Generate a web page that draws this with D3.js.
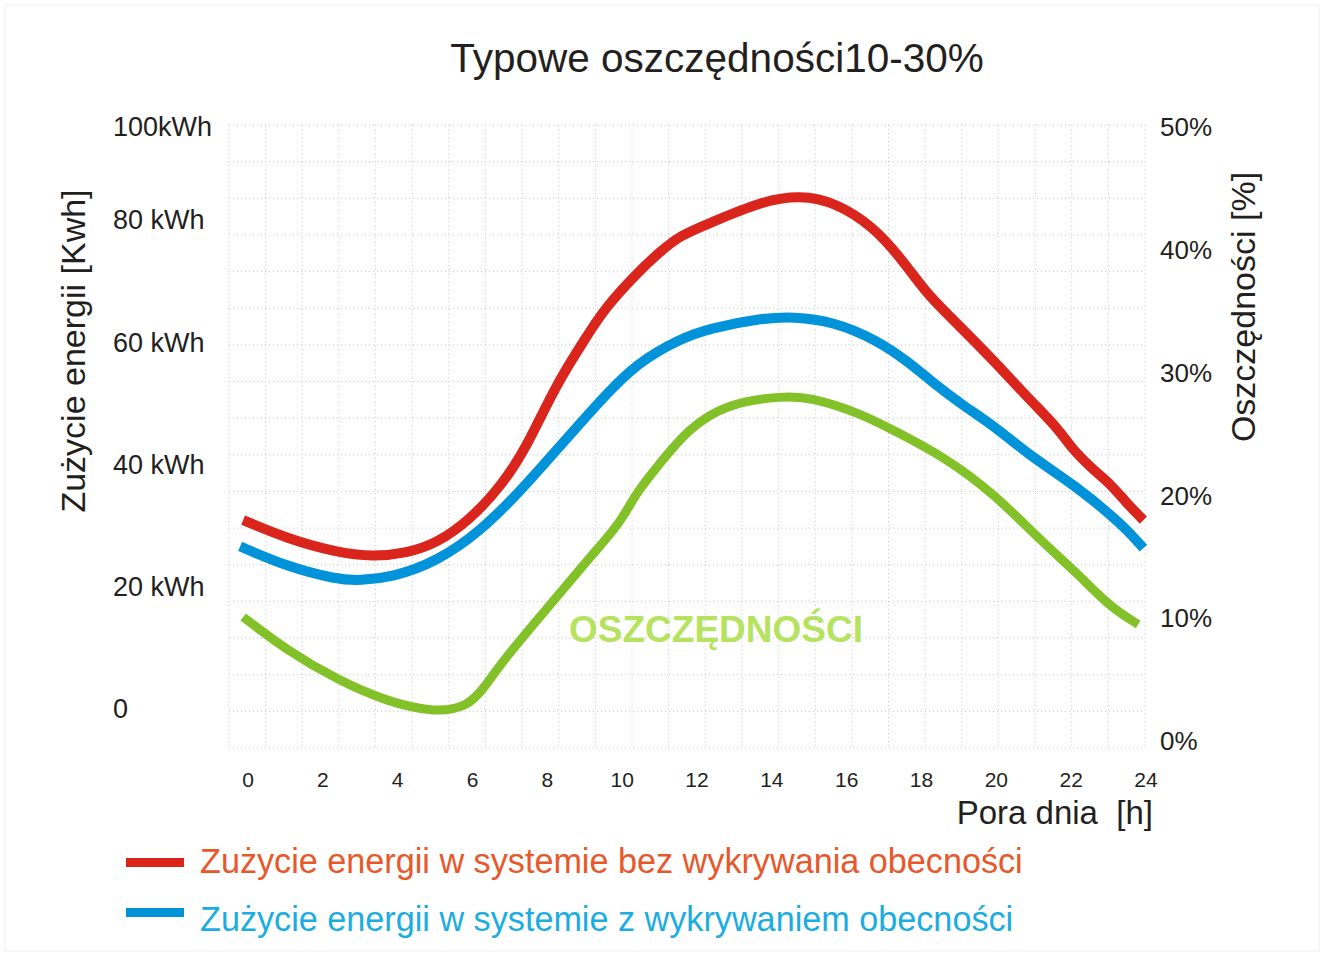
<!DOCTYPE html>
<html>
<head>
<meta charset="utf-8">
<script src="https://cdn.jsdelivr.net/npm/d3@7"></script>
<style>
body { margin: 0; background: #fff; }
svg { font-family: "Liberation Sans", Arial, sans-serif; }
</style>
</head>
<body>
<svg id="chart" width="1324" height="956"></svg>
<script>
//data//
var xTicks = [0, 2, 4, 6, 8, 10, 12, 14, 16, 18, 20, 22, 24];
var kwhTicks = [0, 20, 40, 60, 80, 100];
var kwhLabels = ["0", "20 kWh", "40 kWh", "60 kWh", "80 kWh", "100kWh"];
var pctTicks = [0, 10, 20, 30, 40, 50];

// bez wykrywania obecnosci (kWh)
var redHours = [-0.13, 1.03, 2.37, 3.35, 4.24, 5.04, 5.93, 6.82, 7.45, 8.25, 9.05, 9.5, 10.39, 11.01, 11.55, 12.35, 13.68, 14.75, 15.73, 16.71, 17.42, 18.14, 18.58, 19.92, 20.81, 21.7, 21.97, 22.59, 23.04, 23.48, 23.93];
var redKwh = [30.9, 27.9, 25.6, 24.9, 25.5, 27.1, 30.9, 36.9, 42.9, 53.3, 60.9, 65.3, 71.3, 74.8, 77.5, 79.5, 83.9, 85.4, 83.7, 78.9, 74.0, 68.0, 65.3, 57.1, 51.1, 45.6, 42.9, 39.1, 36.9, 33.7, 30.9];

// z wykrywaniem obecnosci (kWh)
var blueHours = [-0.21, 1.03, 2.37, 2.99, 3.88, 5.04, 6.2, 7.27, 8.16, 8.96, 9.5, 10.39, 11.55, 12.35, 13.68, 14.57, 15.64, 16.8, 17.69, 18.32, 19.03, 20.1, 20.81, 22.15, 23.22, 23.66, 23.93];
var blueKwh = [26.6, 23.3, 21.2, 21.0, 21.6, 24.1, 29.0, 35.6, 41.8, 47.3, 51.0, 56.6, 60.6, 62.3, 63.9, 64.2, 63.4, 60.4, 56.6, 53.3, 50.0, 45.6, 41.8, 36.4, 30.9, 28.2, 26.3];

// oszczednosci (%)
var greenHours = [-0.13, 1.03, 2.37, 3.71, 5.04, 5.85, 6.29, 6.82, 8.16, 9.23, 9.94, 10.39, 11.01, 11.72, 12.79, 14.31, 15.02, 16.36, 17.25, 18.58, 19.92, 21.26, 22.15, 23.04, 23.79];
var greenPct = [10.1, 7.4, 5.0, 3.2, 2.3, 2.8, 4.2, 6.6, 11.4, 15.3, 17.7, 20.3, 22.6, 25.3, 27.5, 28.1, 28.0, 26.7, 25.3, 23.2, 20.2, 16.1, 13.7, 10.9, 9.5];

var legendNames = ["Zużycie energii w systemie bez wykrywania obecności", "Zużycie energii w systemie z wykrywaniem obecności"];

//scales//
var xScale = d3.scaleLinear().domain([0, 24]).range([248, 1146]);
var yKwh = d3.scaleLinear().domain([0, 80, 100]).range([709, 220, 127]);
var yPct = d3.scaleLinear().domain([0, 50]).range([741, 127]);
var gridX = d3.scaleLinear().domain([0, 25]).range([229, 1145]);
var gridY = d3.scaleLinear().domain([0, 17]).range([125, 748]);

var svg = d3.select("#chart");

svg.append("rect")
   .attr("x", 5).attr("y", 5)
   .attr("width", 1314).attr("height", 946)
   .style("fill", "none")
   .style("stroke", "#eeeeee");

//grid//
var grid = svg.append("g").attr("id", "grid");
grid.selectAll("line.v")
    .data(d3.range(0, 26))
    .enter()
    .append("line")
    .attr("class", "v")
    .attr("x1", function(d) { return gridX(d); })
    .attr("x2", function(d) { return gridX(d); })
    .attr("y1", gridY(0))
    .attr("y2", gridY(17))
    .style("stroke", "#c8c8c8")
    .style("stroke-width", 1)
    .style("stroke-dasharray", "1,3");
grid.selectAll("line.h")
    .data(d3.range(0, 18))
    .enter()
    .append("line")
    .attr("class", "h")
    .attr("y1", function(d) { return gridY(d); })
    .attr("y2", function(d) { return gridY(d); })
    .attr("x1", gridX(0))
    .attr("x2", gridX(25))
    .style("stroke", "#c8c8c8")
    .style("stroke-width", 1)
    .style("stroke-dasharray", "1,3");

//axes labels//
svg.append("g")
   .selectAll("text")
   .data(xTicks)
   .enter()
   .append("text")
   .attr("x", function(d) { return xScale(d); })
   .attr("y", 787)
   .attr("text-anchor", "middle")
   .style("font-size", "21px")
   .style("fill", "#231f20")
   .text(function(d) { return d; });

svg.append("g")
   .selectAll("text")
   .data(kwhTicks)
   .enter()
   .append("text")
   .attr("x", 113)
   .attr("y", function(d) { return yKwh(d); })
   .attr("dy", "0.35em")
   .style("font-size", "27px")
   .style("fill", "#231f20")
   .text(function(d, i) { return kwhLabels[i]; });

svg.append("g")
   .selectAll("text")
   .data(pctTicks)
   .enter()
   .append("text")
   .attr("x", 1160)
   .attr("y", function(d) { return yPct(d); })
   .attr("dy", "0.35em")
   .style("font-size", "26px")
   .style("fill", "#231f20")
   .text(function(d) { return d + "%"; });

svg.append("text")
   .attr("transform", "translate(85,351) rotate(-90)")
   .attr("text-anchor", "middle")
   .style("font-size", "34px")
   .style("fill", "#231f20")
   .text("Zużycie energii [Kwh]");

svg.append("text")
   .attr("transform", "translate(1255,307) rotate(-90)")
   .attr("text-anchor", "middle")
   .style("font-size", "34px")
   .style("fill", "#231f20")
   .text("Oszczędności [%]");

svg.append("text")
   .attr("x", 1153)
   .attr("y", 824)
   .attr("text-anchor", "end")
   .attr("xml:space", "preserve")
   .style("white-space", "pre")
   .style("font-size", "33px")
   .style("fill", "#231f20")
   .text("Pora dnia  [h]");

svg.append("text")
   .attr("x", 717)
   .attr("y", 72)
   .attr("text-anchor", "middle")
   .style("font-size", "40.5px")
   .style("fill", "#231f20")
   .text("Typowe oszczędności10-30%");

//lines//
var makeLine = function(hours, vals, yScale)
{
    var pts = hours.map(function(h, i) { return [xScale(h), yScale(vals[i])]; });
    return d3.line().curve(d3.curveBasis)(pts);
};

svg.append("path")
   .attr("d", makeLine(greenHours, greenPct, yPct))
   .style("fill", "none")
   .style("stroke", "#82c228")
   .style("stroke-width", 9);

svg.append("path")
   .attr("d", makeLine(blueHours, blueKwh, yKwh))
   .style("fill", "none")
   .style("stroke", "#0093da")
   .style("stroke-width", 10);

svg.append("path")
   .attr("d", makeLine(redHours, redKwh, yKwh))
   .style("fill", "none")
   .style("stroke", "#da251d")
   .style("stroke-width", 10);

svg.append("text")
   .attr("x", 716)
   .attr("y", 642)
   .attr("text-anchor", "middle")
   .style("font-size", "37px")
   .style("font-weight", "bold")
   .style("fill", "#b6e35f")
   .text("OSZCZĘDNOŚCI");

//legend//
var legendColors = ["#da251d", "#0093da"];
var legendText = ["#e8582a", "#1badE1"];
var legend = svg.append("g").attr("id", "legend");
legend.selectAll("rect")
      .data(legendNames)
      .enter()
      .append("rect")
      .attr("x", 126)
      .attr("y", function(d, i) { return 858 + i * 50; })
      .attr("width", 58)
      .attr("height", 9)
      .style("fill", function(d, i) { return legendColors[i]; });
legend.selectAll("text")
      .data(legendNames)
      .enter()
      .append("text")
      .attr("x", 200)
      .attr("y", function(d, i) { return 873 + i * 58; })
      .style("font-size", "34.2px")
      .style("fill", function(d, i) { return legendText[i]; })
      .text(function(d) { return d; });
</script>
</body>
</html>
